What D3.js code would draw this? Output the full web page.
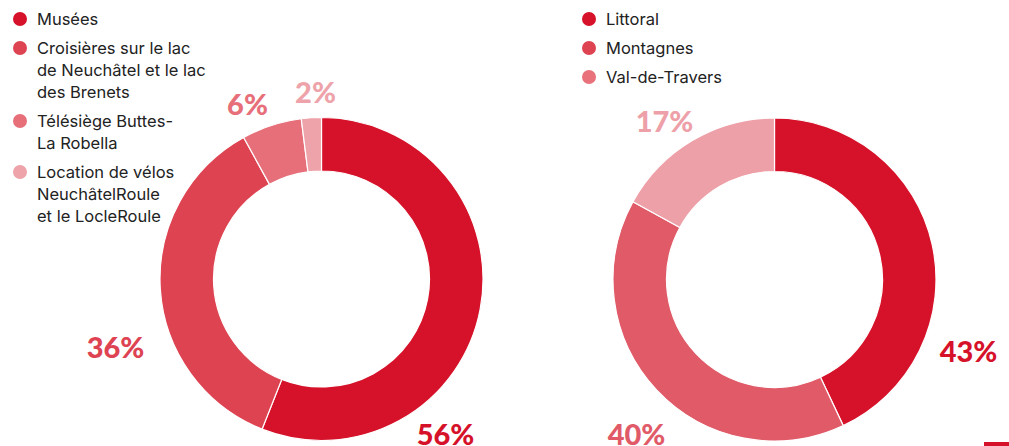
<!DOCTYPE html>
<html>
<head>
<meta charset="utf-8">
<script src="https://cdn.jsdelivr.net/npm/d3@7"></script>
<style>
  body { margin: 0; background: #fff; }
  svg { display: block; }
  .legend text { font-family: Inter, Roboto, sans-serif; font-size: 16.5px; fill: #222; }
  .pct { font-family: Lato, "Open Sans", sans-serif; font-weight: 900; font-size: 29px; }
</style>
</head>
<body>
<div id="chart"></div>
<script>
// left donut
var leftLabels = [["Musées"], ["Croisières sur le lac", "de Neuchâtel et le lac", "des Brenets"], ["Télésiège Buttes-", "La Robella"], ["Location de vélos", "NeuchâtelRoule", "et le LocleRoule"]]
var leftValues = [56, 36, 6, 2]
var leftColors = ["#d6122a", "#de4352", "#e66f7a", "#eea3aa"]

// right donut
var rightLabels = [["Littoral"], ["Montagnes"], ["Val-de-Travers"]]
var rightValues = [43, 40, 17]
var rightColors = ["#d6122a", "#e05a68", "#eea0a8"]
var rightLegendColors = ["#d6122a", "#de4352", "#e8717c"]

var width = 1009, height = 446
var outerR = 161.5, innerR = 108

// where the percent labels sit (offset from donut centre)
var leftPctPos = [[124, 166], [-206, 79], [-74, -164], [-6, -176]]
var rightPctPos = [[194, 82], [-138, 165], [-110, -148]]

var svg = d3.select("#chart").append("svg")
            .attr("width", width)
            .attr("height", height)

function drawDonut(cx, cy, values, colors, pctPos) {
    var pie = d3.pie().sort(null).value(d => d)
    var arc = d3.arc().innerRadius(innerR).outerRadius(outerR)
    var g = svg.append("g").attr("transform", "translate(" + cx + "," + cy + ")")

    g.selectAll("path")
        .data(pie(values))
        .join("path")
        .attr("d", arc)
        .attr("fill", (d, i) => colors[i])
        .attr("stroke", "#fff")
        .attr("stroke-width", 1.2)

    g.selectAll(".pct")
        .data(values)
        .join("text")
        .attr("class", "pct")
        .attr("x", (d, i) => pctPos[i][0])
        .attr("y", (d, i) => pctPos[i][1])
        .attr("text-anchor", "middle")
        .attr("fill", (d, i) => colors[i])
        .text(d => d + "%")
}

function drawLegend(x, y, labels, colors) {
    var g = svg.append("g").attr("class", "legend").attr("transform", "translate(" + x + "," + y + ")")
    var lineH = 22, gap = 7
    var offset = 0
    labels.forEach((lines, i) => {
        g.append("circle")
            .attr("cx", 0)
            .attr("cy", offset)
            .attr("r", 7)
            .attr("fill", colors[i])
        var t = g.append("text").attr("x", 17).attr("y", offset + 6)
        lines.forEach((l, j) => {
            t.append("tspan").attr("x", 17).attr("dy", j == 0 ? 0 : lineH).text(l)
        })
        offset += lines.length * lineH + gap
    })
}

drawDonut(321.5, 279, leftValues, leftColors, leftPctPos)
drawDonut(774.5, 279.5, rightValues, rightColors, rightPctPos)

drawLegend(20, 19, leftLabels, leftColors)
drawLegend(589, 19, rightLabels, rightLegendColors)

// little red mark bottom right
svg.append("rect")
    .attr("x", 984).attr("y", 442)
    .attr("width", 25).attr("height", 4)
    .attr("fill", "#d6122a")
</script>
</body>
</html>
